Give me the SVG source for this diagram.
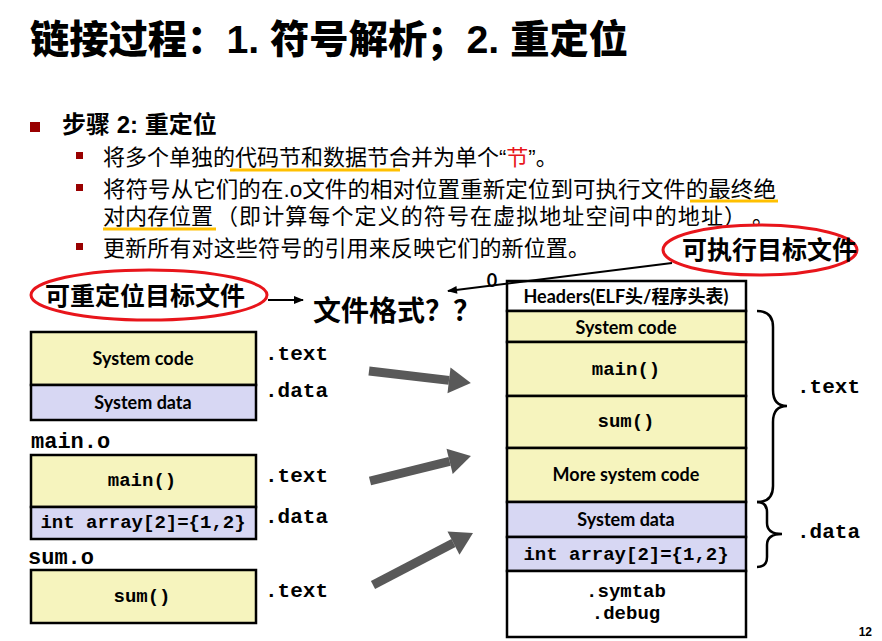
<svg xmlns="http://www.w3.org/2000/svg" width="882" height="641" viewBox="0 0 882 641">
  <style>
    .cjk { font-family: "Liberation Sans", "Noto Sans CJK SC", sans-serif; }
    .title { font-size: 39px; font-weight: 900; fill: #000; }
    .head { font-size: 24px; font-weight: 700; fill: #000; }
    .body { font-size: 22px; font-weight: 400; fill: #000; }
    .callout { font-size: 25px; font-weight: 700; fill: #000; }
    .big { font-size: 28px; font-weight: 700; fill: #000; }
    .box { font-family: "Lato", "Noto Sans CJK SC", sans-serif; font-size: 18px; font-weight: 700; fill: #000; text-anchor: middle; }
    .mono { font-family: "Liberation Mono", monospace; font-weight: 700; fill: #000; }
    .m19 { font-size: 19px; }
    .m21 { font-size: 21px; }
    .m22 { font-size: 22px; }
    .mid { text-anchor: middle; }
    .code { fill: #F6F4BE; stroke: #000; stroke-width: 2.5; }
    .data { fill: #D7D7F3; stroke: #000; stroke-width: 2.5; }
    .plain { fill: #FFFFFF; stroke: #000; stroke-width: 2.5; }
    .ring { fill: none; stroke: #E8151B; stroke-width: 3; }
    .hl { stroke: #FFC000; stroke-width: 3; }
    .thin { stroke: #000; stroke-width: 2; fill: none; }
    .fat { stroke: #595959; stroke-width: 9; fill: none; }
    .brace { fill: none; stroke: #000; stroke-width: 2.5; }
  </style>
  <defs>
    <marker id="headThin" markerUnits="userSpaceOnUse" markerWidth="10" markerHeight="10" refX="9" refY="5" orient="auto" overflow="visible">
      <path d="M0,1 L10,5 L0,9 z" fill="#000"/>
    </marker>
    <marker id="headFat" markerUnits="userSpaceOnUse" markerWidth="22" markerHeight="26" refX="0" refY="13" orient="auto" overflow="visible">
      <path d="M0,0 L22,13 L0,26 z" fill="#595959"/>
    </marker>
  </defs>

  <rect width="882" height="641" fill="#FFFFFF"/>

  <!-- slide title -->
  <text class="cjk title" x="30" y="53" textLength="598" lengthAdjust="spacingAndGlyphs">链接过程：1. 符号解析；2. 重定位</text>

  <!-- bullet list -->
  <g id="bullets">
    <rect x="30" y="122" width="10" height="10" fill="#990000"/>
    <text class="cjk head" x="62" y="133">步骤 2: 重定位</text>

    <rect x="76" y="152" width="7" height="7" fill="#990000"/>
    <line class="hl" x1="230" y1="170" x2="400" y2="170"/>
    <text class="cjk body" x="103" y="165">将多个单独的代码节和数据节合并为单个“<tspan fill="#E8151B">节</tspan>”。</text>

    <rect x="76" y="184" width="7" height="7" fill="#990000"/>
    <line class="hl" x1="690" y1="201" x2="778" y2="201"/>
    <text class="cjk body" x="103" y="197" textLength="673" lengthAdjust="spacingAndGlyphs">将符号从它们的在.o文件的相对位置重新定位到可执行文件的最终绝</text>
    <line class="hl" x1="103" y1="229" x2="216" y2="229"/>
    <text class="cjk body" x="103" y="224">对内存位置</text>
    <text class="cjk body" x="216" y="224" textLength="530" lengthAdjust="spacing">（即计算每个定义的符号在虚拟地址空间中的地址）</text>
    <text class="cjk body" x="752" y="224">。</text>

    <rect x="76" y="243" width="7" height="7" fill="#990000"/>
    <text class="cjk body" x="103" y="256" textLength="487" lengthAdjust="spacing">更新所有对这些符号的引用来反映它们的新位置。</text>
  </g>

  <!-- callouts -->
  <g id="exec-callout">
    <ellipse class="ring" cx="760" cy="250" rx="97" ry="25"/>
    <text class="cjk callout" x="682" y="259">可执行目标文件</text>
  </g>
  <g id="reloc-callout">
    <ellipse class="ring" cx="149" cy="295" rx="118" ry="25"/>
    <text class="cjk callout" x="45" y="305">可重定位目标文件</text>
  </g>
  <g id="format-question">
    <text class="cjk big" x="313" y="321">文件格式？？</text>
  </g>

  <!-- relocatable object files -->
  <g id="sys-obj">
    <rect class="code" x="31" y="332" width="225" height="53"/>
    <rect class="data" x="31" y="385" width="225" height="35"/>
    <text class="box" x="143" y="365">System code</text>
    <text class="box" x="143" y="409">System data</text>
    <text class="mono m21" x="265" y="360">.text</text>
    <text class="mono m21" x="265" y="397">.data</text>
  </g>

  <g id="main-obj">
    <text class="mono m22" x="31" y="448">main.o</text>
    <rect class="code" x="31" y="455" width="225" height="52"/>
    <rect class="data" x="31" y="507" width="225" height="32"/>
    <text class="mono m19 mid" x="142" y="486">main()</text>
    <text class="mono m19 mid" x="143" y="528">int array[2]={1,2}</text>
    <text class="mono m21" x="265" y="482">.text</text>
    <text class="mono m21" x="265" y="523">.data</text>
  </g>

  <g id="sum-obj">
    <text class="mono m22" x="28" y="564">sum.o</text>
    <rect class="code" x="31" y="570" width="225" height="53"/>
    <text class="mono m19 mid" x="142" y="602">sum()</text>
    <text class="mono m21" x="265" y="597">.text</text>
  </g>

  <!-- executable object file -->
  <g id="exe-obj">
    <text class="box" x="492" y="287" font-size="18">0</text>
    <rect class="plain" x="507" y="281" width="239" height="30"/>
    <rect class="code" x="507" y="311" width="239" height="31"/>
    <rect class="code" x="507" y="342" width="239" height="54"/>
    <rect class="code" x="507" y="396" width="239" height="52"/>
    <rect class="code" x="507" y="448" width="239" height="54"/>
    <rect class="data" x="507" y="502" width="239" height="35"/>
    <rect class="data" x="507" y="537" width="239" height="34"/>
    <rect class="plain" x="507" y="571" width="239" height="66"/>
    <text class="box" x="626" y="303">Headers(ELF头/程序头表)</text>
    <text class="box" x="626" y="334">System code</text>
    <text class="mono m19 mid" x="626" y="375">main()</text>
    <text class="mono m19 mid" x="626" y="427">sum()</text>
    <text class="box" x="626" y="481">More system code</text>
    <text class="box" x="626" y="526">System data</text>
    <text class="mono m19 mid" x="626" y="560">int array[2]={1,2}</text>
    <text class="mono m19 mid" x="626" y="597">.symtab</text>
    <text class="mono m19 mid" x="626" y="619">.debug</text>
  </g>

  <g id="section-braces">
    <path class="brace" d="M757,311 Q773,311 773,327 L773,390 Q773,406 787,406 Q773,406 773,422 L773,486 Q773,502 757,502"/>
    <path class="brace" d="M757,502 Q767,502 767,512 L767,523 Q767,534 782,534 Q767,534 767,545 L767,557 Q767,567 757,567"/>
    <text class="mono m21" x="797" y="393">.text</text>
    <text class="mono m21" x="797" y="538">.data</text>
  </g>

  <!-- connectors -->
  <g id="connectors">
    <line class="thin" x1="268" y1="300" x2="303" y2="300" marker-end="url(#headThin)"/>
    <line class="thin" x1="672" y1="263" x2="448" y2="291" marker-end="url(#headThin)"/>
    <line class="fat" x1="369" y1="371" x2="449" y2="380.4" marker-end="url(#headFat)"/>
    <line class="fat" x1="370" y1="481" x2="449.6" y2="461.3" marker-end="url(#headFat)"/>
    <line class="fat" x1="373" y1="585" x2="453.5" y2="543.1" marker-end="url(#headFat)"/>
  </g>

  <text x="872" y="636" font-family="Liberation Sans, sans-serif" font-size="12" font-weight="700" text-anchor="end" fill="#000">12</text>
</svg>
